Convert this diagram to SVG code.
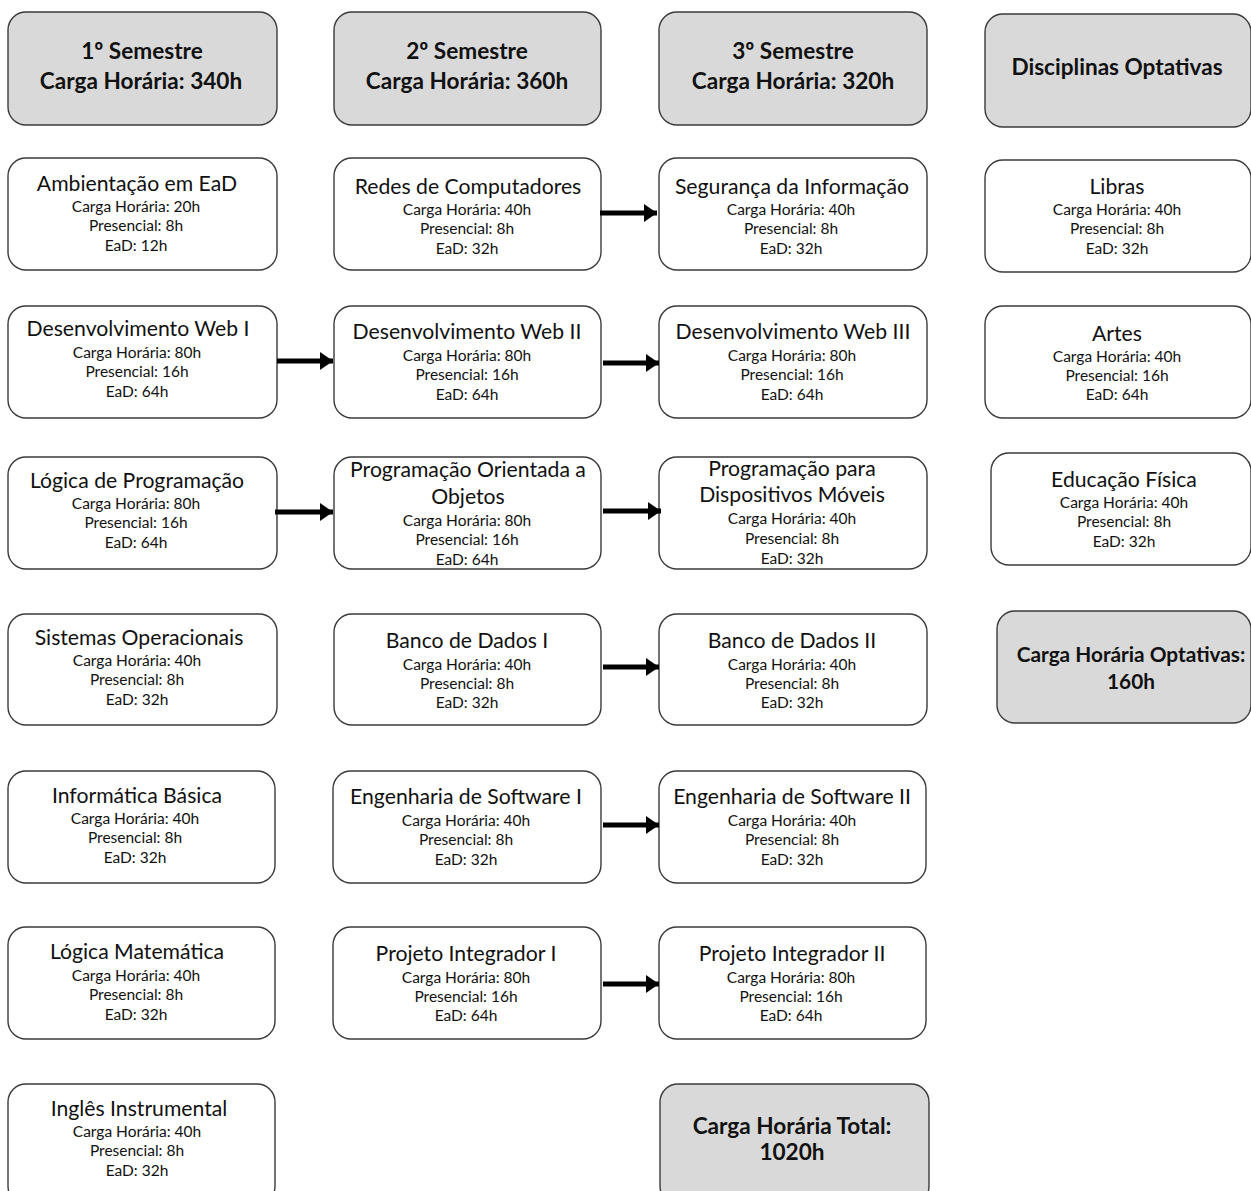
<svg xmlns="http://www.w3.org/2000/svg" width="1251" height="1191" viewBox="0 0 1251 1191">
<style>
.b{fill:#fff;stroke:#3a3a3a;stroke-width:1.4}
.h{fill:#d9d9d9;stroke:#3a3a3a;stroke-width:1.4}
text{font-family:Lato,"Liberation Sans",sans-serif;fill:#111;text-anchor:middle}
.t{font-size:21.2px}
.s{font-size:15.5px}
.hb{font-size:22.6px;font-weight:bold}
.c{stroke:#000;stroke-width:5;fill:none}
</style>
<defs>
<marker id="ah" markerUnits="userSpaceOnUse" markerWidth="14" markerHeight="20" refX="13" refY="10" orient="auto">
<path d="M0,1 L13,10 L0,19 Z" fill="#000"/>
</marker>
</defs>
<rect width="1251" height="1191" fill="#fff"/>
<g transform="translate(0,1)">
<g id="h1"><rect class="h" x="8" y="11" width="269" height="113" rx="18"/><text class="hb" x="142" y="58">1º Semestre</text><text class="hb" x="141" y="88">Carga Horária: 340h</text></g>
<g id="h2"><rect class="h" x="334" y="11" width="267" height="113" rx="18"/><text class="hb" x="467" y="58">2º Semestre</text><text class="hb" x="467" y="88">Carga Horária: 360h</text></g>
<g id="h3"><rect class="h" x="659" y="11" width="268" height="113" rx="18"/><text class="hb" x="793" y="58">3º Semestre</text><text class="hb" x="793" y="88">Carga Horária: 320h</text></g>
<g id="h4"><rect class="h" x="985" y="13" width="266" height="113" rx="18"/><text class="hb" x="1117" y="74">Disciplinas Optativas</text></g>

<g id="n11"><rect class="b" x="8" y="157" width="269" height="112" rx="18"/><text class="t" x="137" y="190">Ambientação em EaD</text><text class="s" x="136" y="211">Carga Horária: 20h</text><text class="s" x="136" y="230">Presencial: 8h</text><text class="s" x="136" y="250">EaD: 12h</text></g>
<g id="n21"><rect class="b" x="8" y="305" width="269" height="112" rx="18"/><text class="t" x="138" y="335">Desenvolvimento Web I</text><text class="s" x="137" y="357">Carga Horária: 80h</text><text class="s" x="137" y="376">Presencial: 16h</text><text class="s" x="137" y="396">EaD: 64h</text></g>
<g id="n31"><rect class="b" x="8" y="456" width="269" height="112" rx="18"/><text class="t" x="137" y="487">Lógica de Programação</text><text class="s" x="136" y="508">Carga Horária: 80h</text><text class="s" x="136" y="527">Presencial: 16h</text><text class="s" x="136" y="547">EaD: 64h</text></g>
<g id="n41"><rect class="b" x="8" y="613" width="269" height="111" rx="18"/><text class="t" x="139" y="644">Sistemas Operacionais</text><text class="s" x="137" y="665">Carga Horária: 40h</text><text class="s" x="137" y="684">Presencial: 8h</text><text class="s" x="137" y="704">EaD: 32h</text></g>
<g id="n51"><rect class="b" x="8" y="770" width="267" height="112" rx="18"/><text class="t" x="137" y="802">Informática Básica</text><text class="s" x="135" y="823">Carga Horária: 40h</text><text class="s" x="135" y="842">Presencial: 8h</text><text class="s" x="135" y="862">EaD: 32h</text></g>
<g id="n61"><rect class="b" x="8" y="926" width="267" height="112" rx="18"/><text class="t" x="137" y="958">Lógica Matemática</text><text class="s" x="136" y="980">Carga Horária: 40h</text><text class="s" x="136" y="999">Presencial: 8h</text><text class="s" x="136" y="1019">EaD: 32h</text></g>
<g id="n71"><rect class="b" x="8" y="1083" width="267" height="120" rx="18"/><text class="t" x="139" y="1115">Inglês Instrumental</text><text class="s" x="137" y="1136">Carga Horária: 40h</text><text class="s" x="137" y="1155">Presencial: 8h</text><text class="s" x="137" y="1175">EaD: 32h</text></g>

<g id="n12"><rect class="b" x="334" y="157" width="267" height="112" rx="18"/><text class="t" x="468" y="193">Redes de Computadores</text><text class="s" x="467" y="214">Carga Horária: 40h</text><text class="s" x="467" y="233">Presencial: 8h</text><text class="s" x="467" y="253">EaD: 32h</text></g>
<g id="n22"><rect class="b" x="334" y="305" width="267" height="112" rx="18"/><text class="t" x="467" y="338">Desenvolvimento Web II</text><text class="s" x="467" y="360">Carga Horária: 80h</text><text class="s" x="467" y="379">Presencial: 16h</text><text class="s" x="467" y="399">EaD: 64h</text></g>
<g id="n32"><rect class="b" x="334" y="456" width="267" height="112" rx="18"/><text class="t" x="468" y="476">Programação Orientada a</text><text class="t" x="468" y="503">Objetos</text><text class="s" x="467" y="525">Carga Horária: 80h</text><text class="s" x="467" y="544">Presencial: 16h</text><text class="s" x="467" y="564">EaD: 64h</text></g>
<g id="n42"><rect class="b" x="334" y="613" width="267" height="111" rx="18"/><text class="t" x="467" y="647">Banco de Dados I</text><text class="s" x="467" y="669">Carga Horária: 40h</text><text class="s" x="467" y="688">Presencial: 8h</text><text class="s" x="467" y="707">EaD: 32h</text></g>
<g id="n52"><rect class="b" x="333" y="770" width="268" height="112" rx="18"/><text class="t" x="466" y="803">Engenharia de Software I</text><text class="s" x="466" y="825">Carga Horária: 40h</text><text class="s" x="466" y="844">Presencial: 8h</text><text class="s" x="466" y="864">EaD: 32h</text></g>
<g id="n62"><rect class="b" x="333" y="926" width="268" height="112" rx="18"/><text class="t" x="466" y="960">Projeto Integrador I</text><text class="s" x="466" y="982">Carga Horária: 80h</text><text class="s" x="466" y="1001">Presencial: 16h</text><text class="s" x="466" y="1020">EaD: 64h</text></g>

<g id="n13"><rect class="b" x="659" y="157" width="268" height="112" rx="18"/><text class="t" x="792" y="193">Segurança da Informação</text><text class="s" x="791" y="214">Carga Horária: 40h</text><text class="s" x="791" y="233">Presencial: 8h</text><text class="s" x="791" y="253">EaD: 32h</text></g>
<g id="n23"><rect class="b" x="659" y="305" width="268" height="112" rx="18"/><text class="t" x="793" y="338">Desenvolvimento Web III</text><text class="s" x="792" y="360">Carga Horária: 80h</text><text class="s" x="792" y="379">Presencial: 16h</text><text class="s" x="792" y="399">EaD: 64h</text></g>
<g id="n33"><rect class="b" x="659" y="456" width="268" height="112" rx="18"/><text class="t" x="792" y="475">Programação para</text><text class="t" x="792" y="501">Dispositivos Móveis</text><text class="s" x="792" y="523">Carga Horária: 40h</text><text class="s" x="792" y="543">Presencial: 8h</text><text class="s" x="792" y="563">EaD: 32h</text></g>
<g id="n43"><rect class="b" x="659" y="613" width="268" height="111" rx="18"/><text class="t" x="792" y="647">Banco de Dados II</text><text class="s" x="792" y="669">Carga Horária: 40h</text><text class="s" x="792" y="688">Presencial: 8h</text><text class="s" x="792" y="707">EaD: 32h</text></g>
<g id="n53"><rect class="b" x="659" y="770" width="267" height="112" rx="18"/><text class="t" x="792" y="803">Engenharia de Software II</text><text class="s" x="792" y="825">Carga Horária: 40h</text><text class="s" x="792" y="844">Presencial: 8h</text><text class="s" x="792" y="864">EaD: 32h</text></g>
<g id="n63"><rect class="b" x="659" y="926" width="267" height="112" rx="18"/><text class="t" x="792" y="960">Projeto Integrador II</text><text class="s" x="791" y="982">Carga Horária: 80h</text><text class="s" x="791" y="1001">Presencial: 16h</text><text class="s" x="791" y="1020">EaD: 64h</text></g>
<g id="total"><rect class="h" x="660" y="1083" width="269" height="120" rx="18"/><text class="hb" x="792" y="1133">Carga Horária Total:</text><text class="hb" x="792" y="1159">1020h</text></g>

<g id="o1"><rect class="b" x="985" y="159" width="266" height="112" rx="18"/><text class="t" x="1117" y="193">Libras</text><text class="s" x="1117" y="214">Carga Horária: 40h</text><text class="s" x="1117" y="233">Presencial: 8h</text><text class="s" x="1117" y="253">EaD: 32h</text></g>
<g id="o2"><rect class="b" x="985" y="305" width="266" height="112" rx="18"/><text class="t" x="1117" y="340">Artes</text><text class="s" x="1117" y="361">Carga Horária: 40h</text><text class="s" x="1117" y="380">Presencial: 16h</text><text class="s" x="1117" y="399">EaD: 64h</text></g>
<g id="o3"><rect class="b" x="991" y="452" width="260" height="112" rx="18"/><text class="t" x="1124" y="486">Educação Física</text><text class="s" x="1124" y="507">Carga Horária: 40h</text><text class="s" x="1124" y="526">Presencial: 8h</text><text class="s" x="1124" y="546">EaD: 32h</text></g>
<g id="o4"><rect class="h" x="997" y="610" width="254" height="112" rx="18"/><text class="hb" x="1131" y="661" style="font-size:20.8px">Carga Horária Optativas:</text><text class="hb" x="1131" y="688" style="font-size:20.8px">160h</text></g>
</g>

<g id="connectors">
<line class="c" x1="600" y1="213" x2="657" y2="213" marker-end="url(#ah)"/>
<line class="c" x1="277" y1="361" x2="333" y2="361" marker-end="url(#ah)"/>
<line class="c" x1="603" y1="363" x2="659" y2="363" marker-end="url(#ah)"/>
<line class="c" x1="275" y1="512" x2="333" y2="512" marker-end="url(#ah)"/>
<line class="c" x1="603" y1="511" x2="661" y2="511" marker-end="url(#ah)"/>
<line class="c" x1="603" y1="667" x2="659" y2="667" marker-end="url(#ah)"/>
<line class="c" x1="603" y1="825" x2="659" y2="825" marker-end="url(#ah)"/>
<line class="c" x1="603" y1="984" x2="659" y2="984" marker-end="url(#ah)"/>
</g>
</svg>
